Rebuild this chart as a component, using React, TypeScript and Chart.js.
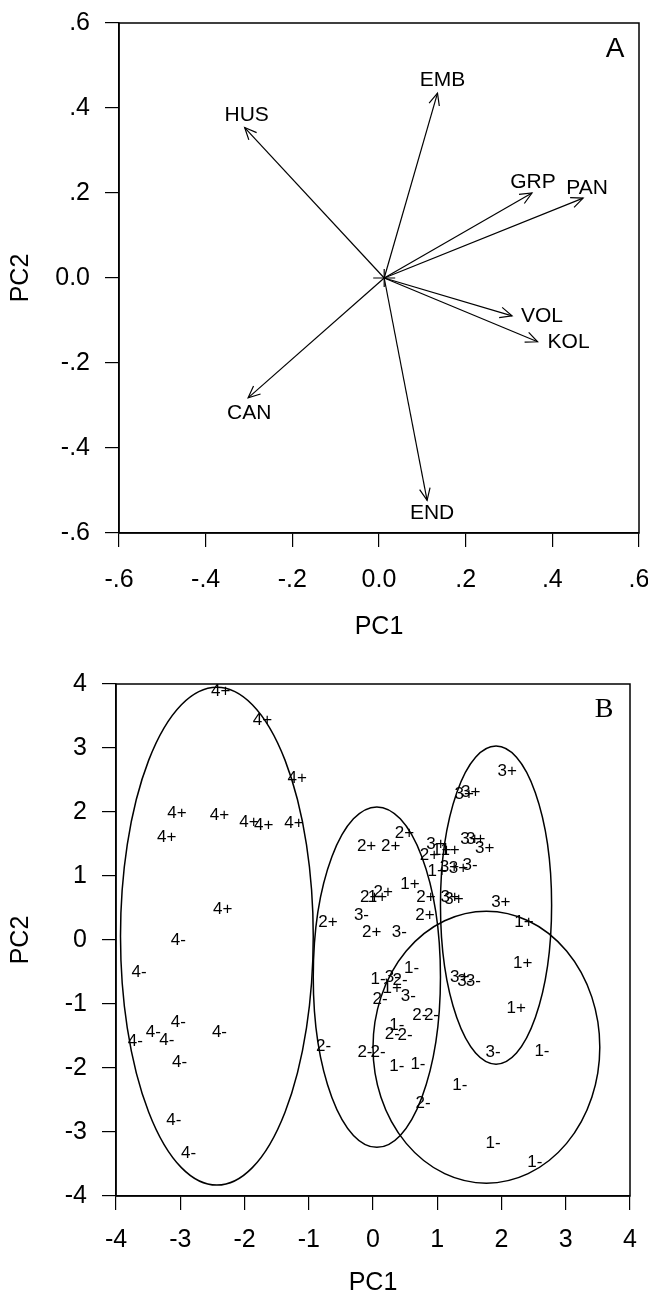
import React, { useEffect, useRef } from 'react';
import { Chart, registerables } from 'chart.js';

Chart.register(...registerables);

const FONT = "'Liberation Sans', Arial, Helvetica, sans-serif";
const SERIF = "'Liberation Serif', 'Times New Roman', serif";

// ---------- Panel A : loadings (biplot arrows) ----------
const aTickValues = [-0.6, -0.4, -0.2, 0, 0.2, 0.4, 0.6];
const aTickLabels = ['-.6', '-.4', '-.2', '0.0', '.2', '.4', '.6'];
const aVariables = ['HUS', 'EMB', 'GRP', 'PAN', 'VOL', 'KOL', 'CAN', 'END'];
const aPC1 = [-0.31, 0.135, 0.353, 0.471, 0.307, 0.366, -0.302, 0.111];
const aPC2 = [0.354, 0.435, 0.2, 0.188, -0.089, -0.15, -0.282, -0.523];
const aOrigin = [0.012, 0];

// ---------- Panel B : scores ----------
const bTickValues = [-4, -3, -2, -1, 0, 1, 2, 3, 4];
const bTickLabels = ['-4', '-3', '-2', '-1', '0', '1', '2', '3', '4'];

const g1PlusX = [0.07, 0.576, 1.07, 1.2, 1.0, 2.35, 2.33, 2.23, 0.3];
const g1PlusY = [0.66, 0.87, 1.4, 1.4, 1.08, 0.27, -0.36, -1.06, -0.76];
const g1MinusX = [0.6, 0.08, 0.37, 0.37, 0.7, 1.35, 2.63, 1.87, 2.52];
const g1MinusY = [-0.44, -0.61, -1.33, -1.97, -1.94, -2.27, -1.74, -3.17, -3.47];
const g2PlusX = [-0.1, 0.275, 0.49, -0.7, -0.05, 0.16, -0.02, 0.825, 0.81, 0.88];
const g2PlusY = [1.47, 1.47, 1.66, 0.27, 0.66, 0.74, 0.12, 0.66, 0.385, 1.32];
const g2MinusX = [0.42, 0.11, 0.73, 0.91, 0.3, 0.5, -0.125, 0.08, -0.77, 0.78];
const g2MinusY = [-0.63, -0.92, -1.18, -1.18, -1.48, -1.49, -1.76, -1.76, -1.66, -2.55];
const g3PlusX = [2.09, 1.42, 1.52, 1.51, 1.6, 1.74, 0.98, 1.19, 1.33, 1.2, 1.26, 1.99, 1.35];
const g3PlusY = [2.64, 2.28, 2.3, 1.58, 1.58, 1.44, 1.5, 1.13, 1.12, 0.66, 0.64, 0.59, -0.58];
const g3MinusX = [1.51, -0.18, 0.41, 0.3, 0.55, 1.43, 1.56, 1.87];
const g3MinusY = [1.17, 0.385, 0.125, -0.58, -0.875, -0.64, -0.645, -1.75];
const g4PlusX = [-2.37, -1.72, -1.18, -3.05, -2.39, -1.93, -1.7, -1.23, -3.21, -2.34];
const g4PlusY = [3.89, 3.44, 2.52, 1.98, 1.95, 1.84, 1.79, 1.82, 1.61, 0.48];
const g4MinusX = [-3.03, -3.64, -3.03, -3.42, -3.21, -3.7, -2.39, -3.01, -3.1, -2.87];
const g4MinusY = [0.0, -0.51, -1.28, -1.45, -1.56, -1.59, -1.45, -1.91, -2.82, -3.34];

const bGroupLabels = ['1+', '1-', '2+', '2-', '3+', '3-', '4+', '4-'];
const bGroupX = [g1PlusX, g1MinusX, g2PlusX, g2MinusX, g3PlusX, g3MinusX, g4PlusX, g4MinusX];
const bGroupY = [g1PlusY, g1MinusY, g2PlusY, g2MinusY, g3PlusY, g3MinusY, g4PlusY, g4MinusY];

// group ellipses (groups 4, 2, 3, 1)
const ellCenterX = [-2.43, 0.06, 1.915, 1.765];
const ellCenterY = [0.06, -0.58, 0.545, -1.675];
const ellRadiusX = [1.5, 0.99, 0.865, 1.765];
const ellRadiusY = [3.89, 2.66, 2.485, 2.125];

// label placement of the arrow names (pixel offsets from arrow tip) - style only
const labelOffsetPx: Record<string, [number, number]> = {
  HUS: [2, -12], EMB: [5, -13], GRP: [1, -11], PAN: [4, -10],
  VOL: [30, 0], KOL: [31, 0], CAN: [1, 15], END: [5, 13],
};

function makeScale(
  axis: 'x' | 'y', ticksV: number[], ticksL: string[], min: number, max: number,
  fitSize: number, tickPad: number, titlePad: number
) {
  return {
    type: 'linear',
    position: axis === 'x' ? 'bottom' : 'left',
    min, max,
    afterBuildTicks: (s: any) => { s.ticks = ticksV.map((v) => ({ value: v })); },
    afterFit: (s: any) => {
      if (axis === 'x') s.height = fitSize; else s.width = fitSize;
      s.paddingLeft = 0; s.paddingRight = 0; s.paddingTop = 0; s.paddingBottom = 0;
    },
    ticks: {
      callback: (_v: any, i: number) => ticksL[i],
      font: { family: FONT, size: 25 },
      color: '#000',
      padding: tickPad,
      maxRotation: 0,
      autoSkip: false,
    },
    grid: { drawOnChartArea: false, drawTicks: true, tickLength: 14, color: '#000', lineWidth: 1.2 },
    border: { display: true, color: '#000', width: 1.5 },
    title: {
      display: true,
      text: axis === 'x' ? 'PC1' : 'PC2',
      font: { family: FONT, size: 25 },
      color: '#000',
      padding: axis === 'x' ? { top: 0, bottom: titlePad } : { top: titlePad, bottom: 0 },
    },
  };
}

const framePlugin = {
  id: 'frame',
  afterDraw(chart: any) {
    const { ctx, chartArea: a } = chart;
    ctx.save();
    ctx.strokeStyle = '#000';
    ctx.lineWidth = 1.5;
    ctx.strokeRect(a.left, a.top, a.right - a.left, a.bottom - a.top);
    ctx.restore();
  },
};

const arrowPlugin = {
  id: 'arrows',
  afterDatasetsDraw(chart: any) {
    const { ctx, scales, chartArea } = chart;
    const x = scales.x, y = scales.y;
    const ox = x.getPixelForValue(aOrigin[0]);
    const oy = y.getPixelForValue(aOrigin[1]);
    ctx.save();
    ctx.strokeStyle = '#000';
    ctx.lineWidth = 1.2;
    ctx.beginPath();
    ctx.moveTo(ox - 11, oy); ctx.lineTo(ox + 11, oy);
    ctx.moveTo(ox, oy - 9); ctx.lineTo(ox, oy + 9);
    ctx.stroke();
    ctx.font = `21px ${FONT}`;
    ctx.textAlign = 'center';
    ctx.textBaseline = 'middle';
    ctx.fillStyle = '#000';
    aVariables.forEach((name, i) => {
      const tx = x.getPixelForValue(aPC1[i]);
      const ty = y.getPixelForValue(aPC2[i]);
      const ang = Math.atan2(ty - oy, tx - ox);
      const L = 13, h = 0.42;
      ctx.beginPath();
      ctx.moveTo(tx - L * Math.cos(ang - h), ty - L * Math.sin(ang - h));
      ctx.lineTo(tx, ty);
      ctx.lineTo(tx - L * Math.cos(ang + h), ty - L * Math.sin(ang + h));
      ctx.stroke();
      const [dx, dy] = labelOffsetPx[name];
      ctx.fillText(name, tx + dx, ty + dy);
    });
    ctx.font = `28px ${FONT}`;
    ctx.fillText('A', chartArea.right - 24, chartArea.top + 26);
    ctx.restore();
  },
};

const scorePlugin = {
  id: 'scores',
  afterDatasetsDraw(chart: any) {
    const { ctx, scales, chartArea } = chart;
    const x = scales.x, y = scales.y;
    ctx.save();
    ctx.strokeStyle = '#000';
    ctx.lineWidth = 1.5;
    ellCenterX.forEach((cx, i) => {
      const px = x.getPixelForValue(cx);
      const py = y.getPixelForValue(ellCenterY[i]);
      const rx = Math.abs(x.getPixelForValue(cx + ellRadiusX[i]) - px);
      const ry = Math.abs(y.getPixelForValue(ellCenterY[i] + ellRadiusY[i]) - py);
      ctx.beginPath();
      ctx.ellipse(px, py, rx, ry, 0, 0, Math.PI * 2);
      ctx.stroke();
    });
    ctx.font = `17px ${FONT}`;
    ctx.textAlign = 'center';
    ctx.textBaseline = 'middle';
    ctx.fillStyle = '#000';
    chart.data.datasets.forEach((ds: any, di: number) => {
      const meta = chart.getDatasetMeta(di);
      meta.data.forEach((el: any) => {
        ctx.fillText(ds.label, el.x, el.y);
      });
    });
    ctx.font = `28px ${SERIF}`;
    ctx.fillText('B', chartArea.right - 26, chartArea.top + 26);
    ctx.restore();
  },
};

export default function App() {
  const refA = useRef<HTMLCanvasElement>(null);
  const refB = useRef<HTMLCanvasElement>(null);

  useEffect(() => {
    Chart.defaults.font.family = FONT;
    const chartA = new Chart(refA.current as HTMLCanvasElement, {
      type: 'scatter',
      data: {
        datasets: aVariables.map((name, i) => ({
          label: name,
          data: [
            { x: aOrigin[0], y: aOrigin[1] },
            { x: aPC1[i], y: aPC2[i] },
          ],
          showLine: true,
          borderColor: '#000',
          borderWidth: 1.2,
          pointRadius: 0,
          fill: false,
        })),
      },
      options: {
        animation: false,
        responsive: false,
        devicePixelRatio: 1,
        layout: { padding: { top: 23, right: 9, left: 0, bottom: 0 } },
        plugins: { legend: { display: false }, tooltip: { enabled: false } },
        scales: {
          x: makeScale('x', aTickValues, aTickLabels, -0.6, 0.6, 117, 18, 8),
          y: makeScale('y', aTickValues, aTickLabels, -0.6, 0.6, 119, 15, 6),
        } as any,
      },
      plugins: [framePlugin, arrowPlugin],
    } as any);

    const chartB = new Chart(refB.current as HTMLCanvasElement, {
      type: 'scatter',
      data: {
        datasets: bGroupLabels.map((lab, gi) => ({
          label: lab,
          data: bGroupX[gi].map((vx, k) => ({ x: vx, y: bGroupY[gi][k] })),
          pointRadius: 0,
          borderWidth: 0,
        })),
      },
      options: {
        animation: false,
        responsive: false,
        devicePixelRatio: 1,
        layout: { padding: { top: 34, right: 18, left: 0, bottom: 0 } },
        plugins: { legend: { display: false }, tooltip: { enabled: false } },
        scales: {
          x: makeScale('x', bTickValues, bTickLabels, -4, 4, 105, 15, 3),
          y: makeScale('y', bTickValues, bTickLabels, -4, 4, 116, 15, 6),
        } as any,
      },
      plugins: [framePlugin, scorePlugin],
    } as any);

    return () => {
      chartA.destroy();
      chartB.destroy();
    };
  }, []);

  return (
    <div style={{ position: 'absolute', left: 0, top: 0, width: 648, height: 1301, background: '#fff' }}>
      <canvas
        ref={refA}
        width={648}
        height={650}
        style={{ position: 'absolute', left: 0, top: 0, width: 648, height: 650, display: 'block' }}
      />
      <canvas
        ref={refB}
        width={648}
        height={651}
        style={{ position: 'absolute', left: 0, top: 650, width: 648, height: 651, display: 'block' }}
      />
    </div>
  );
}
